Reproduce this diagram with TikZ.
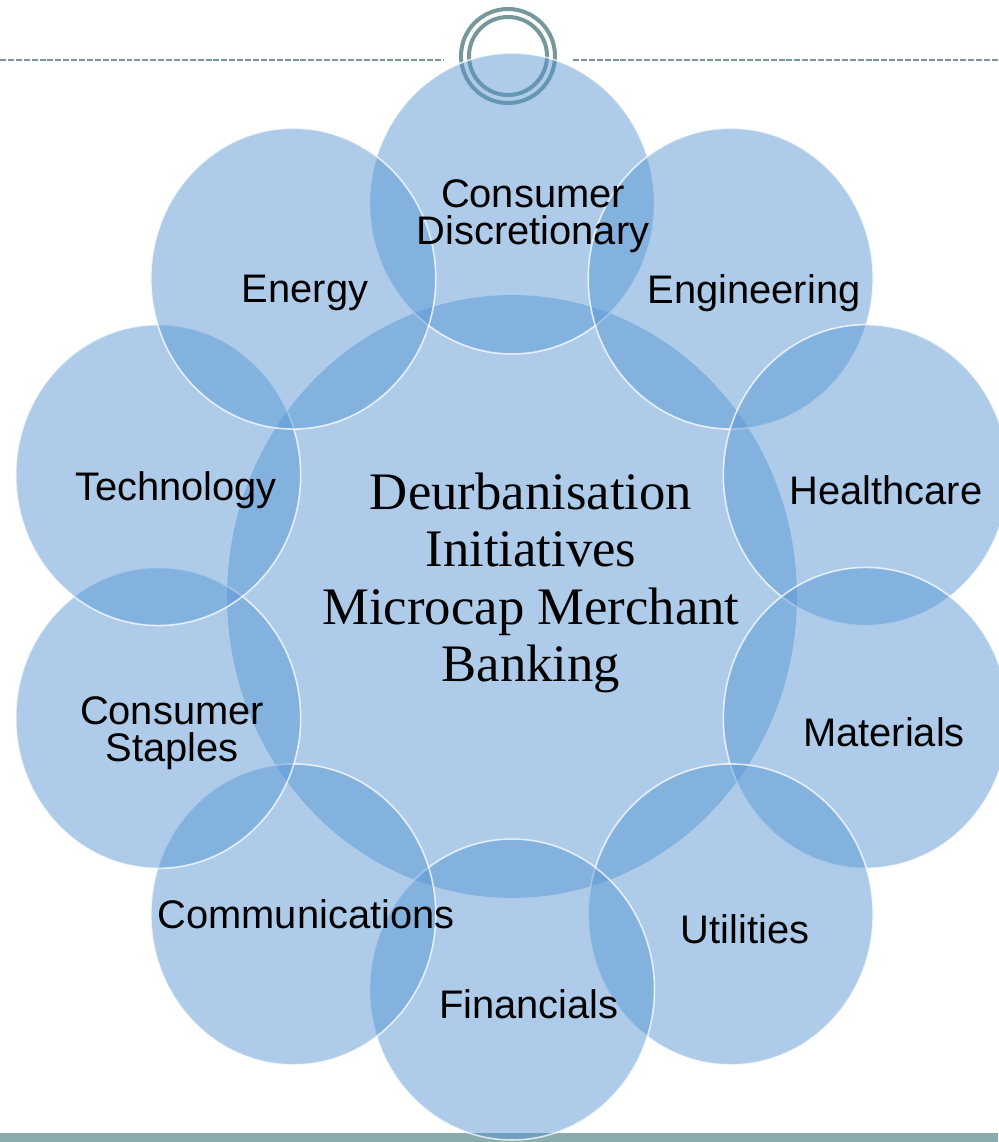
\documentclass[tikz,border=0pt]{standalone}
\usepackage{fontspec}
\newfontfamily\labelfont{Liberation Sans}
\newfontfamily\hubfont{Liberation Serif}
\usetikzlibrary{shapes.geometric}
\definecolor{bubbleblue}{RGB}{86,149,211}
\definecolor{slateline}{RGB}{118,152,154}
\definecolor{slatebar}{RGB}{138,172,172}

\begin{document}
\begin{tikzpicture}[x=0.02cm, y=-0.02cm,
                    bubblenode/.style={ellipse, inner sep=0pt, minimum width=5.7cm, minimum height=6.02cm, fill=bubbleblue, fill opacity=0.48, draw=white, draw opacity=0.75, line width=0.9pt},
                    hubnode/.style={ellipse, inner sep=0pt, minimum width=11.4cm, minimum height=12.06cm, fill=bubbleblue, fill opacity=0.48},
                    labelnode/.style={font=\labelfont\fontsize{22.7}{21}\selectfont, align=center, inner sep=0pt},
                    hubtext/.style={font=\hubfont\fontsize{30}{32.6}\selectfont, align=center, inner sep=0pt},
                    ringnode/.style={circle, draw=slateline, line width=2.3pt, inner sep=0pt},
                    rulerline/.style={slateline, line width=1pt, dash pattern=on 3.4pt off 1.1pt},]
    \useasboundingbox (0,0) rectangle (998,1142);
    % slide decoration
    \fill[slatebar] (0,1133) rectangle (998,1142);
    \node[ringnode, minimum size=1.88cm] (ringout) at (508,56) {};
    \node[ringnode, minimum size=1.56cm] (ringin)  at (508,56) {};
    \coordinate (ruleW)  at (0,60);
    \coordinate (ruleWe) at (444,60);
    \coordinate (ruleEs) at (573,60);
    \coordinate (ruleE)  at (998,60);
    \draw[rulerline] (ruleW) -- (ruleWe);
    \draw[rulerline] (ruleEs) -- (ruleE);
    % bubbles
    \node[hubnode]    (hub)       at (512,596.5)   {};
    \node[bubblenode] (discr)     at (512,203.5)   {};
    \node[bubblenode] (engin)     at (730.7,278.6) {};
    \node[bubblenode] (health)    at (865.8,475.1) {};
    \node[bubblenode] (mater)     at (865.8,717.9) {};
    \node[bubblenode] (util)      at (730.7,914.4) {};
    \node[bubblenode] (finan)     at (512,989.5)   {};
    \node[bubblenode] (commu)     at (293.3,914.4) {};
    \node[bubblenode] (staples)   at (158.2,717.9) {};
    \node[bubblenode] (techn)     at (158.2,475.1) {};
    \node[bubblenode] (energy)    at (293.3,278.6) {};
    % texts
    \node[hubtext]   (hub-t)     at (531,583)  {Deurbanisation\\Initiatives\\Microcap Merchant\\Banking};
    \node[labelnode] (discr-t)   at (533,216)  {Consumer\\Discretionary};
    \node[labelnode] (engin-t)   at (754,293)  {Engineering};
    \node[labelnode] (health-t)  at (886,490)  {Healthcare};
    \node[labelnode] (mater-t)   at (884,732)  {Materials};
    \node[labelnode] (util-t)    at (745,929)  {Utilities};
    \node[labelnode] (finan-t)   at (529,1004) {Financials};
    \node[labelnode] (commu-t)   at (306,914)  {Communications};
    \node[labelnode] (staples-t) at (172,733)  {Consumer\\Staples};
    \node[labelnode] (techn-t)   at (176,490)  {Technology};
    \node[labelnode] (energy-t)  at (305,293)  {Energy};
\end{tikzpicture}
\end{document}
